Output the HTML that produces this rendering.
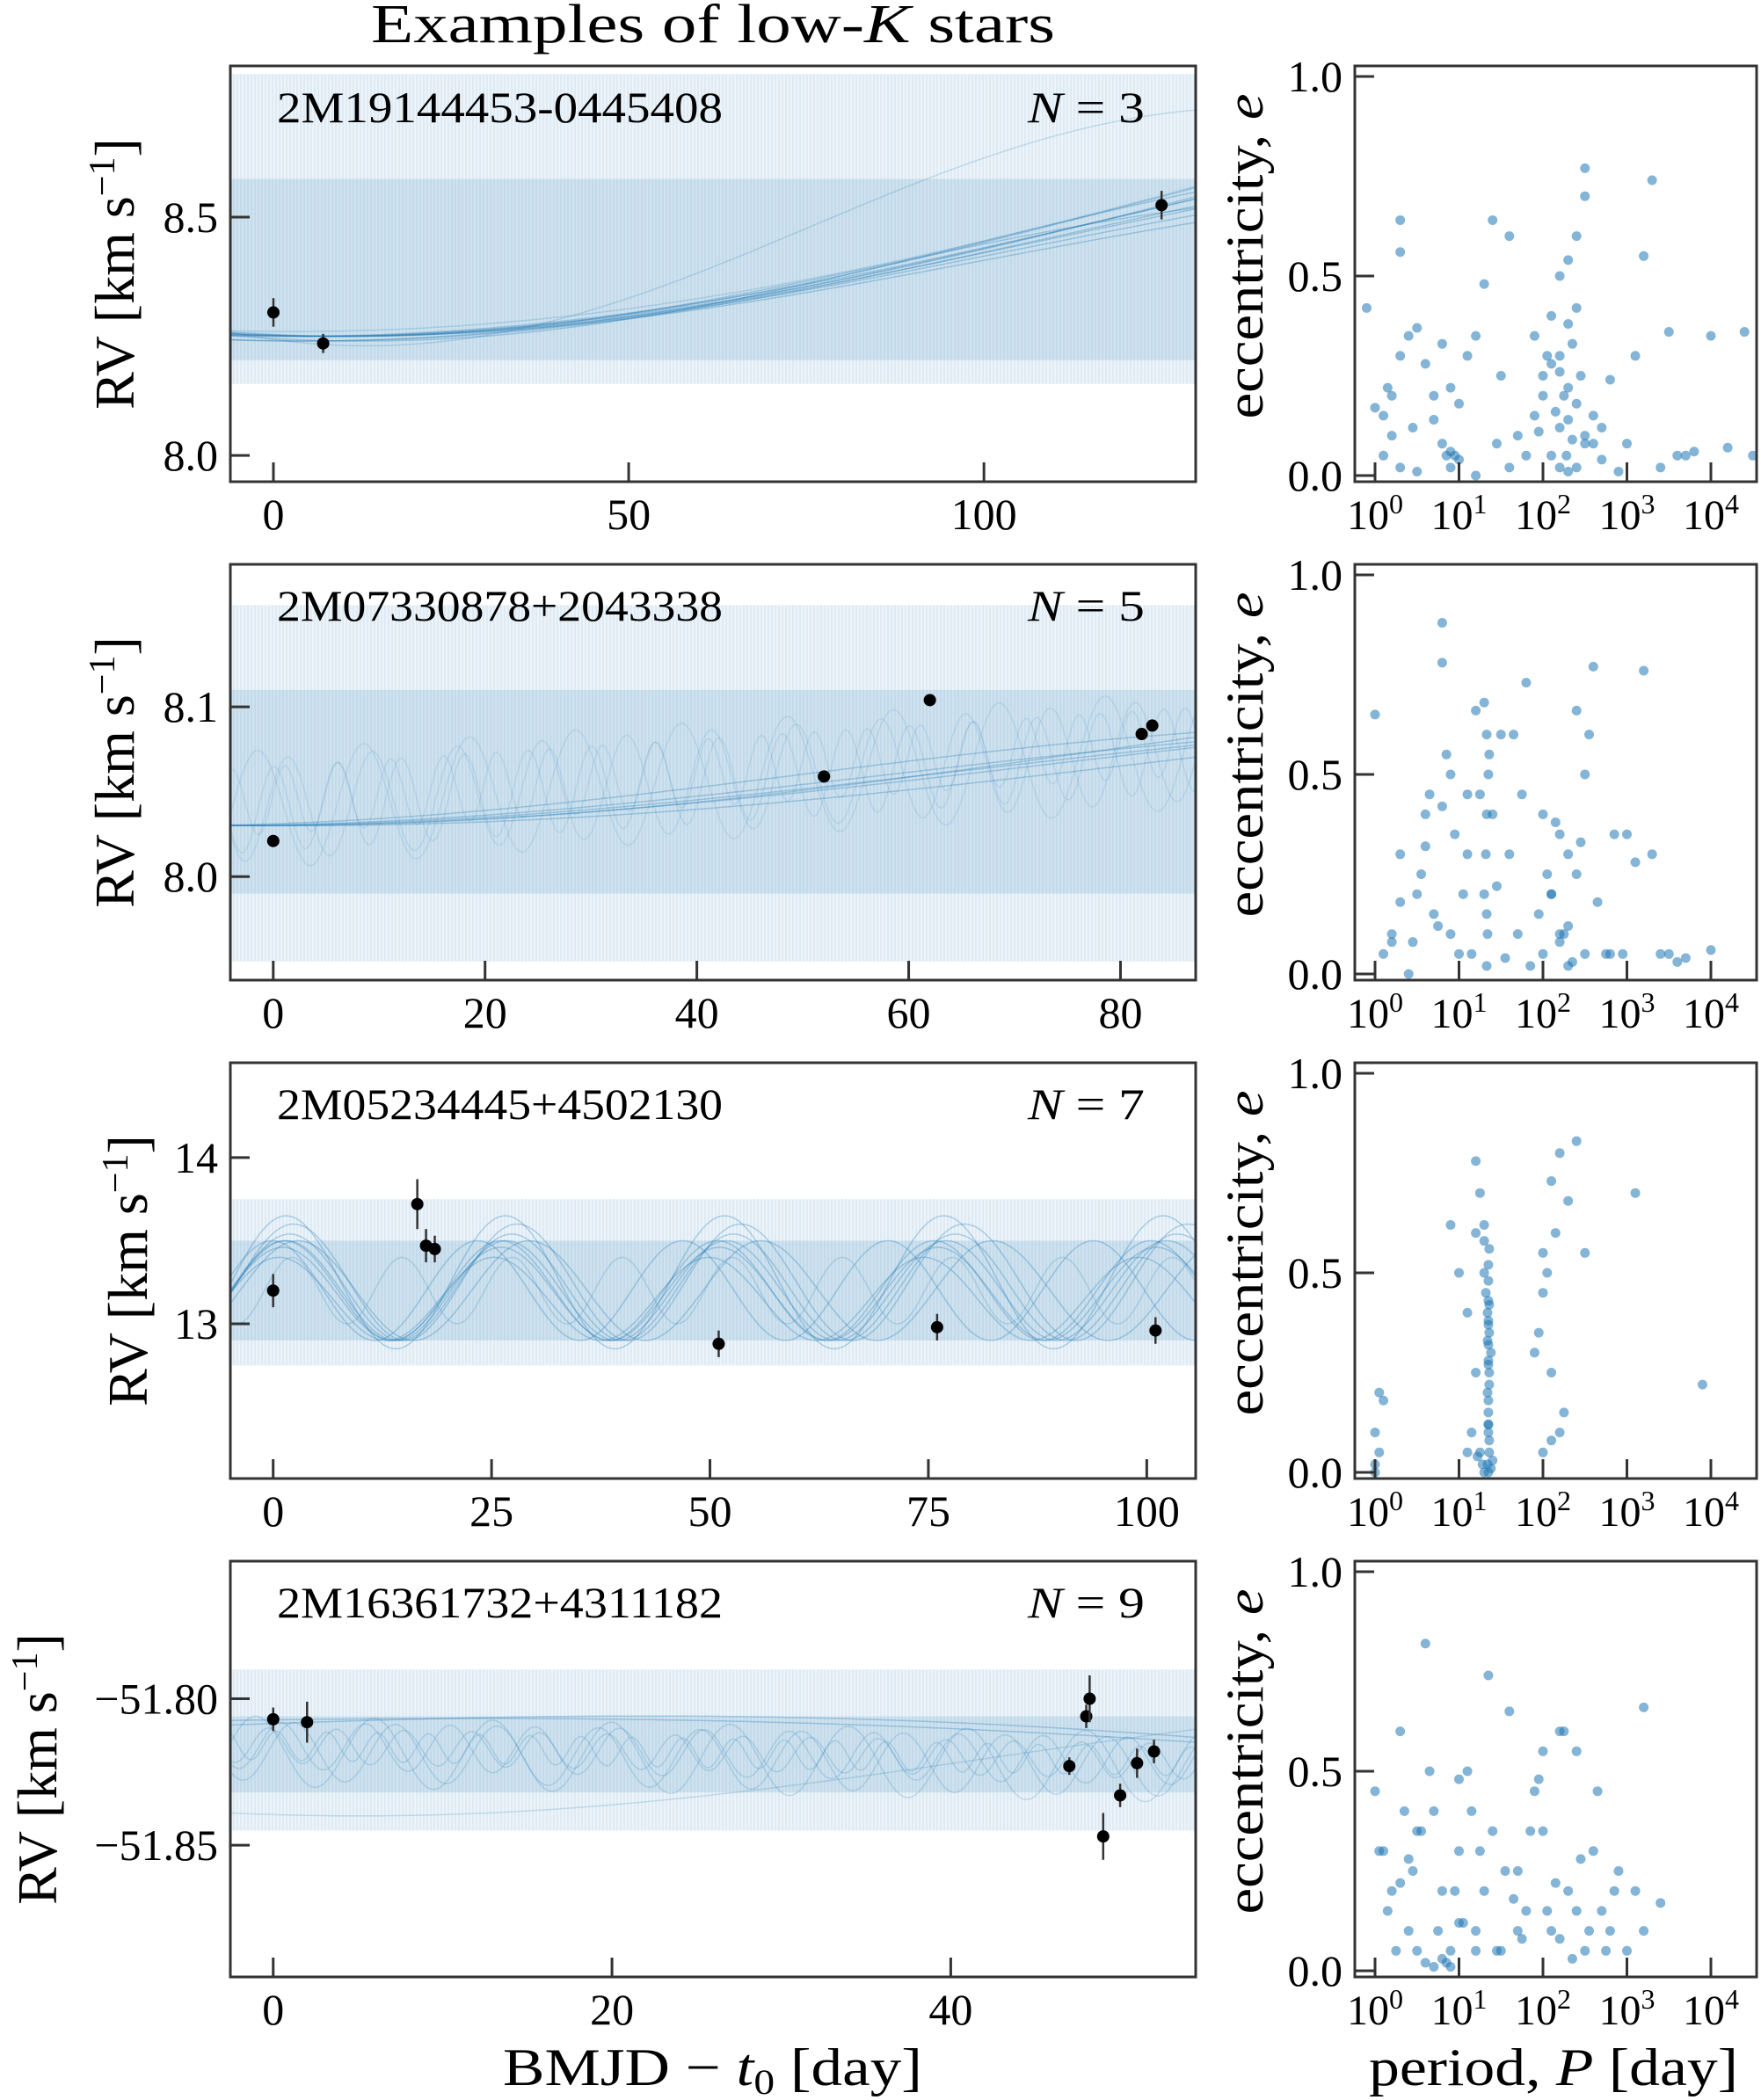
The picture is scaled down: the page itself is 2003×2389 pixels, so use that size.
<!DOCTYPE html>
<html><head><meta charset="utf-8">
<style>
html,body{margin:0;padding:0;background:#fff;}
svg{display:block;font-family:"Liberation Serif","DejaVu Serif",serif;}
</style></head>
<body>
<svg id="fig" width="2003" height="2389" viewBox="0 0 2003 2389" xmlns="http://www.w3.org/2000/svg">
<text x="422" y="48" font-size="62" textLength="778" lengthAdjust="spacingAndGlyphs">Examples of low-<tspan font-style="italic">K</tspan> stars</text>
<text x="572" y="2372" font-size="60" textLength="477" lengthAdjust="spacingAndGlyphs">BMJD − <tspan font-style="italic">t</tspan><tspan font-size="40" dy="10">0</tspan><tspan dy="-10"> [day]</tspan></text>
<text x="1557" y="2372" font-size="60" textLength="420" lengthAdjust="spacingAndGlyphs">period, <tspan font-style="italic">P</tspan> [day]</text>
<g id="plots"></g>
</svg>
<script>
// ---------- data ----------
const starNames = ["2M19144453-0445408","2M07330878+2043338","2M05234445+4502130","2M16361732+4311182"];
const nObs = [3,5,7,9];
const xRanges = [[-6.06,129.8],[-4.05,87.1],[-4.9,105.6],[-2.53,54.46]];
const yRanges = [[7.945,8.817],[7.939,8.184],[12.07,14.57],[-51.895,-51.753]];
const xTicks = [[0,50,100],[0,20,40,60,80],[0,25,50,75,100],[0,20,40]];
const yTicks = [[8.0,8.5],[8.0,8.1],[13,14],[-51.85,-51.80]];
const yTickLabels = [["8.0","8.5"],["8.0","8.1"],["13","14"],["−51.85","−51.80"]];
const obsT = [[0,7,125],[0,52,62,82,83],[0,16.5,17.5,18.5,51,76,101],[0,2,47,48,48.2,49,50,51,52]];
const obsRV = [[8.30,8.235,8.525],[8.021,8.059,8.104,8.084,8.089],[13.20,13.72,13.47,13.45,12.88,12.98,12.96],
 [-51.807,-51.808,-51.823,-51.806,-51.800,-51.847,-51.833,-51.822,-51.818]];
const obsErr = [[0.03,0.02,0.03],[0.003,0.003,0.003,0.003,0.003],[0.1,0.15,0.1,0.08,0.08,0.08,0.08],
 [0.004,0.007,0.003,0.004,0.008,0.008,0.004,0.005,0.004]];
// sample-orbit bands [outer lo, outer hi, core lo, core hi]
const bands = [[8.15,8.8,8.2,8.58],[7.95,8.16,7.99,8.11],[12.75,13.75,12.9,13.5],[-51.845,-51.79,-51.832,-51.806]];
// sample curves: [period, amplitude, phase, offset, slope, opacity]
const curves = [
 [[400,0.2,-1.697,8.45,0,0.3],[420,0.22,-1.65,8.46,0,0.3],[380,0.18,-1.72,8.43,0,0.3],[450,0.25,-1.62,8.49,0,0.3],[360,0.16,-1.75,8.41,0,0.3],[500,0.28,-1.6,8.53,0,0.3],[340,0.2,-1.8,8.44,0,0.3],[480,0.3,-1.66,8.55,0,0.3],[300,0.15,-1.8,8.40,0,0.3],[560,0.35,-1.62,8.6,0,0.3],[250,0.25,-1.9,8.48,0,0.2],[600,0.4,-1.6,8.66,0,0.2]],
 [[300,0.035,-1.5,8.065,0,0.3],[260,0.03,-1.4,8.06,0,0.3],[340,0.04,-1.6,8.07,0,0.3],[280,0.032,-1.45,8.062,0,0.3],[320,0.045,-1.55,8.075,0,0.3],[240,0.03,-1.3,8.06,0,0.3],[8,0.03,0.5,8.04,0.0004,0.12],[6,0.025,1.5,8.04,0.0004,0.12],[10,0.035,2.5,8.04,0.0004,0.12],[5,0.02,0.2,8.045,0.0004,0.12]],
 [[25.2,0.3,1.2,13.2,0,0.3],[25.0,0.28,1.3,13.18,0,0.3],[25.4,0.32,1.1,13.22,0,0.3],[24.8,0.3,1.25,13.2,0,0.3],[25.6,0.35,1.0,13.25,0,0.3],[24.6,0.25,1.4,13.15,0,0.3],[25.1,0.4,1.2,13.25,0,0.3],[23.5,0.3,1.6,13.2,0,0.3],[26.5,0.3,0.9,13.2,0,0.3],[12.6,0.2,0.5,13.2,0,0.2]],
 [[200,0.01,0.5,-51.812,-0.0002,0.3],[180,0.012,0.3,-51.812,-0.0002,0.3],[5,0.008,1.0,-51.816,-0.0001,0.2],[4,0.006,2.0,-51.816,-0.0001,0.2],[6,0.01,0.3,-51.818,-0.0001,0.2],[3,0.005,1.2,-51.816,-0.0001,0.2],[150,0.02,4.5,-51.82,0,0.2],[7,0.012,2.5,-51.818,-0.0001,0.2]]
];
// posterior period (log10 days) and eccentricity samples
const logP = [
 [0.3,0.3,-0.1,0.4,0.5,0.3,0.2,0.1,0.0,0.2,0.1,0.3,0.6,0.7,0.8,0.9,0.95,1.0,0.9,1.0,1.1,1.2,1.3,1.4,1.6,1.5,1.7,1.8,1.6,1.9,2.0,2.1,2.2,2.3,2.4,2.5,2.5,2.4,2.3,2.2,2.3,2.4,2.2,2.1,2.2,2.3,2.5,2.6,2.7,2.8,3.0,3.2,3.3,3.1,3.5,3.6,3.8,4.0,4.4,4.2,4.5,1.9,2.0,2.1,2.35,2.45,2.15,2.5,2.35,1.2,0.5,3.4,0.8,0.85,0.9,2.25,2.3,2.28,2.4,2.2,2.6,1.95,2.05,0.15,0.45,0.7,1.45,2.7,2.9,3.7],
 [0.1,0.2,0.3,0.5,0.6,0.7,0.8,0.8,0.9,1.0,1.1,1.2,1.3,1.35,1.4,1.5,1.6,1.7,1.8,2.0,2.1,2.2,2.3,2.4,2.5,2.6,2.8,3.0,3.2,3.3,3.5,3.7,0.0,0.4,0.45,0.55,0.65,0.75,0.85,0.95,1.05,1.15,1.25,1.3,1.32,1.34,1.36,1.45,1.55,1.65,1.75,1.85,1.95,2.05,2.15,2.25,2.35,2.45,2.55,2.65,2.75,2.85,2.95,3.1,3.4,1.33,1.33,1.33,1.33,2.0,2.1,2.2,2.3,2.4,0.2,0.6,0.9,1.1,2.2,2.3,2.5,4.0,3.6,0.3,0.8],
 [0.0,0.05,0.0,0.05,0.1,0.0,0.9,1.0,1.1,1.2,1.2,1.25,1.3,1.3,1.3,1.32,1.34,1.36,1.38,1.36,1.34,1.35,1.35,1.36,1.35,1.34,1.36,1.35,1.35,1.36,1.35,1.34,1.35,1.36,1.35,1.35,1.36,1.2,1.25,1.1,1.15,1.9,2.0,2.1,2.2,2.3,2.4,2.0,2.1,2.2,1.95,2.05,2.15,2.25,2.5,2.0,2.1,3.1,3.9,1.3,1.28,1.38,1.4,1.22,1.35,1.35,1.35,1.35,1.35],
 [0.0,0.1,0.2,0.3,0.4,0.5,0.6,0.7,0.8,0.9,1.0,1.1,1.2,1.3,1.4,1.5,1.6,1.7,1.8,1.9,2.0,2.1,2.2,2.3,2.4,2.5,2.6,2.7,2.8,2.9,3.0,3.1,3.2,0.05,0.15,0.25,0.35,0.45,0.55,0.65,0.75,0.85,0.95,1.05,1.15,1.25,1.35,1.45,1.55,1.65,1.75,1.85,1.95,2.05,2.15,2.25,2.35,2.45,2.55,2.65,2.75,2.85,0.6,0.7,0.8,0.9,1.0,2.0,2.2,2.4,0.3,0.5,1.7,3.4,3.2,0.4,1.0,1.2]
];
const ecc = [
 [0.64,0.56,0.42,0.35,0.37,0.3,0.2,0.15,0.17,0.1,0.05,0.02,0.28,0.14,0.08,0.06,0.05,0.04,0.22,0.18,0.3,0.35,0.48,0.64,0.6,0.25,0.1,0.05,0.02,0.15,0.2,0.28,0.5,0.54,0.42,0.77,0.7,0.6,0.38,0.3,0.22,0.18,0.12,0.05,0.02,0.01,0.1,0.15,0.04,0.24,0.08,0.55,0.74,0.3,0.36,0.05,0.06,0.35,0.36,0.07,0.05,0.35,0.25,0.4,0.33,0.25,0.16,0.08,0.09,0.0,0.01,0.02,0.33,0.05,0.02,0.2,0.14,0.05,0.02,0.26,0.08,0.11,0.3,0.22,0.12,0.2,0.08,0.12,0.01,0.05],
 [0.05,0.1,0.3,0.2,0.4,0.15,0.88,0.78,0.5,0.05,0.3,0.66,0.2,0.5,0.4,0.6,0.3,0.1,0.73,0.4,0.2,0.1,0.3,0.66,0.5,0.77,0.05,0.35,0.76,0.3,0.05,0.04,0.65,0.0,0.08,0.25,0.45,0.12,0.55,0.35,0.2,0.05,0.45,0.68,0.3,0.1,0.55,0.22,0.04,0.6,0.45,0.02,0.15,0.25,0.38,0.1,0.03,0.33,0.6,0.18,0.05,0.35,0.05,0.28,0.05,0.15,0.02,0.4,0.6,0.05,0.2,0.35,0.12,0.25,0.08,0.32,0.1,0.45,0.08,0.02,0.05,0.06,0.03,0.18,0.42],
 [0.02,0.05,0.1,0.2,0.18,0.0,0.62,0.5,0.05,0.25,0.78,0.7,0.58,0.62,0.5,0.45,0.4,0.35,0.3,0.25,0.2,0.15,0.1,0.05,0.0,0.02,0.08,0.12,0.18,0.22,0.28,0.33,0.38,0.42,0.48,0.52,0.56,0.6,0.05,0.4,0.1,0.3,0.55,0.73,0.8,0.68,0.83,0.45,0.25,0.1,0.35,0.5,0.6,0.15,0.55,0.05,0.08,0.7,0.22,0.0,0.02,0.01,0.03,0.04,0.12,0.27,0.32,0.43,0.37],
 [0.45,0.3,0.2,0.6,0.1,0.05,0.82,0.4,0.2,0.05,0.3,0.5,0.1,0.2,0.35,0.05,0.65,0.25,0.15,0.45,0.35,0.1,0.6,0.2,0.55,0.05,0.3,0.15,0.1,0.25,0.05,0.2,0.1,0.3,0.15,0.05,0.4,0.25,0.35,0.5,0.1,0.02,0.2,0.12,0.4,0.3,0.74,0.05,0.25,0.18,0.08,0.35,0.48,0.15,0.22,0.6,0.03,0.28,0.1,0.45,0.05,0.2,0.02,0.01,0.03,0.01,0.12,0.55,0.08,0.15,0.22,0.35,0.1,0.17,0.66,0.28,0.48,0.05]
];
// ---------- layout ----------
const NS="http://www.w3.org/2000/svg";
const root=document.getElementById('plots');
const tops=[75,642,1209,1776], H=473, LX0=262, LX1=1360, RX0=1541, RX1=1998;
const rvLabelX=[130,130,145,42];
function mk(tag,attrs,parent){const e=document.createElementNS(NS,tag);for(const k in attrs)e.setAttribute(k,attrs[k]);(parent||root).appendChild(e);return e;}
for(let r=0;r<4;r++){
  const T=tops[r],B=T+H;
  const [x0,x1]=xRanges[r],[y0,y1]=yRanges[r];
  const sx=v=>LX0+(v-x0)/(x1-x0)*(LX1-LX0);
  const sy=v=>B-(v-y0)/(y1-y0)*H;
  const g=mk('g',{});
  
  
  const cid='clip'+r;
  const cp=mk('clipPath',{id:cid},g); mk('rect',{x:LX0,y:T,width:LX1-LX0,height:H},cp);
  const pg=mk('g',{'clip-path':'url(#'+cid+')'},g);
  const bd=bands[r];
  const hatch=mk('g',{},pg);
  
  
  for(let x=LX0;x<LX1;x+=4){
    mk('line',{x1:x,x2:x,y1:sy(bd[1]),y2:sy(bd[0]),stroke:'#1f77b4','stroke-opacity':0.12,'stroke-width':1.2},hatch);
  }
  mk('rect',{x:LX0,y:sy(bd[1]),width:LX1-LX0,height:sy(bd[0])-sy(bd[1]),fill:'#1f77b4','fill-opacity':0.08},pg);
  mk('rect',{x:LX0,y:sy(bd[3]),width:LX1-LX0,height:sy(bd[2])-sy(bd[3]),fill:'#1f77b4','fill-opacity':0.14},pg);
  curves[r].forEach((c,i)=>{
    let d='';
    for(let k=0;k<=300;k++){
      const t=x0+(x1-x0)*k/300;
      const v=c[3]+c[1]*Math.sin(2*Math.PI*t/c[0]+c[2])+c[4]*t;
      d+=(k?'L':'M')+sx(t).toFixed(1)+','+sy(v).toFixed(1);
    }
    const p=mk('path',{d:d,fill:'none',stroke:'#1f77b4','stroke-opacity':c[5],'stroke-width':1.5},pg);
    
    
  });
  obsT[r].forEach((t,i)=>{
    const v=obsRV[r][i],e=obsErr[r][i];
    mk('line',{x1:sx(t),x2:sx(t),y1:sy(v-e),y2:sy(v+e),stroke:'#333','stroke-width':2.5},g);
    const c=mk('circle',{cx:sx(t),cy:sy(v),r:7,fill:'#000'},g);
    
    
  });
  xTicks[r].forEach(t=>{
    mk('line',{x1:sx(t),x2:sx(t),y1:B,y2:B-22,stroke:'#333','stroke-width':3},g);
    const tl=mk('text',{x:sx(t),y:B+54,'font-size':50,'text-anchor':'middle'},g); tl.textContent=t;
    
    
  });
  yTicks[r].forEach((t,i)=>{
    mk('line',{x1:LX0,x2:LX0+22,y1:sy(t),y2:sy(t),stroke:'#333','stroke-width':3},g);
    const tl=mk('text',{x:LX0-14,y:sy(t)+17,'font-size':50,'text-anchor':'end'},g); tl.textContent=yTickLabels[r][i];
    
    
  });
  mk('rect',{x:LX0,y:T,width:LX1-LX0,height:H,fill:'none',stroke:'#333','stroke-width':3},g);
  const nm=mk('text',{x:315,y:T+64,'font-size':50,textLength:507,lengthAdjust:'spacingAndGlyphs'},g); nm.textContent=starNames[r];
  
  
  const nl=mk('text',{x:1169,y:T+64,'font-size':50,textLength:133,lengthAdjust:'spacingAndGlyphs'},g);
  nl.innerHTML='<tspan font-style="italic">N</tspan> = '+nObs[r];
  
  
  const yl=mk('text',{x:0,y:0,'font-size':64,'text-anchor':'middle',transform:'translate('+(rvLabelX[r]+22)+','+(T+H/2)+') rotate(-90)'},g);
  yl.innerHTML='RV [km s<tspan font-size="42" dy="-22">−1</tspan><tspan dy="22">]</tspan>';
  
  
  const g2=mk('g',{});
  
  
  const px=v=>1564+v*(1946-1564)/4;
  const py=v=>(T+466)-v*(466-12);
  logP[r].forEach((lp,i)=>{
    const c=mk('circle',{cx:px(lp),cy:py(ecc[r][i]),r:5.5,fill:'#1f77b4','fill-opacity':0.55},g2);
    
    
  });
  for(let k=0;k<=4;k++){
    mk('line',{x1:px(k),x2:px(k),y1:B,y2:B-22,stroke:'#333','stroke-width':3},g2);
    const tl=mk('text',{x:px(k),y:B+54,'font-size':48,'text-anchor':'middle'},g2);
    tl.innerHTML='10<tspan font-size="32" dy="-18">'+k+'</tspan>';
    
    
  }
  [0,0.5,1.0].forEach(v=>{
    mk('line',{x1:RX0,x2:RX0+22,y1:py(v),y2:py(v),stroke:'#333','stroke-width':3},g2);
    const tl=mk('text',{x:RX0-14,y:py(v)+17,'font-size':50,'text-anchor':'end'},g2); tl.textContent=v.toFixed(1);
    
    
  });
  mk('rect',{x:RX0,y:T,width:RX1-RX0,height:H,fill:'none',stroke:'#333','stroke-width':3},g2);
  const el=mk('text',{x:0,y:0,'font-size':60,'text-anchor':'middle',textLength:370,lengthAdjust:'spacingAndGlyphs',transform:'translate(1436,'+(T+H/2-20)+') rotate(-90)'},g2);
  el.innerHTML='eccentricity, <tspan font-style="italic">e</tspan>';
  
  
}
</script>
</body></html>
